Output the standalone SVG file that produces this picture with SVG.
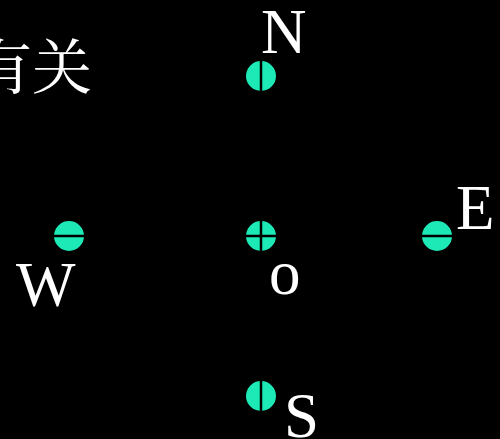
<svg xmlns="http://www.w3.org/2000/svg" width="500" height="439" viewBox="0 0 500 439">
<style>
.lbl{font-family:"Liberation Serif","Noto Serif CJK SC","Noto Sans CJK SC",serif;fill:#fff;font-size:63px}
.cjk{font-size:60px}
.dot{fill:#1de9b6}
.ln{stroke:#000;stroke-width:2.5}
</style>
<rect width="500" height="439" fill="#000"/>
<text class="lbl cjk" x="-28" y="89">有关</text>
<g id="N"><circle class="dot" cx="261" cy="76" r="15"/><line class="ln" x1="261" y1="60" x2="261" y2="92"/><text class="lbl" x="261" y="53">N</text></g>
<g id="W"><circle class="dot" cx="69" cy="236" r="15"/><line class="ln" x1="53" y1="236" x2="85" y2="236"/><text class="lbl" x="16" y="306">W</text></g>
<g id="O"><circle class="dot" cx="261" cy="236" r="15"/><line class="ln" x1="245" y1="236" x2="277" y2="236"/><line class="ln" x1="261" y1="220" x2="261" y2="252"/><text class="lbl" x="269" y="294">o</text></g>
<g id="E"><circle class="dot" cx="437" cy="236" r="15"/><line class="ln" x1="421" y1="236" x2="453" y2="236"/><text class="lbl" x="456" y="229">E</text></g>
<g id="S"><circle class="dot" cx="261" cy="396" r="15"/><line class="ln" x1="261" y1="380" x2="261" y2="412"/><text class="lbl" x="284" y="437">S</text></g>
<g id="connectors"/>
</svg>
